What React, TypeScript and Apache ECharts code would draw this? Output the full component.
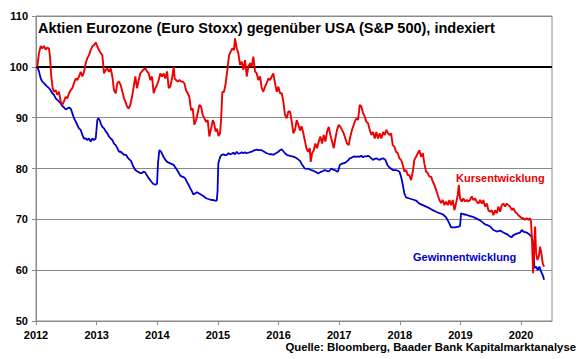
import React, { useEffect, useRef } from "react";
import * as echarts from "echarts";

const yearTicks = [2012, 2013, 2014, 2015, 2016, 2017, 2018, 2019, 2020];

const kursYears = [
  2012.021, 2012.049, 2012.078, 2012.104, 2012.132, 2012.16, 2012.186, 2012.214, 2012.231, 2012.252,
  2012.275, 2012.297, 2012.325, 2012.351, 2012.379, 2012.407, 2012.434, 2012.462, 2012.49, 2012.516,
  2012.544, 2012.572, 2012.599, 2012.627, 2012.655, 2012.681, 2012.709, 2012.737, 2012.764, 2012.792,
  2012.82, 2012.846, 2012.874, 2012.902, 2012.929, 2012.957, 2012.985, 2013.011, 2013.039, 2013.067,
  2013.094, 2013.122, 2013.15, 2013.176, 2013.204, 2013.232, 2013.259, 2013.287, 2013.315, 2013.341,
  2013.369, 2013.397, 2013.424, 2013.452, 2013.473, 2013.501, 2013.529, 2013.555, 2013.584, 2013.612,
  2013.638, 2013.666, 2013.694, 2013.72, 2013.748, 2013.777, 2013.803, 2013.831, 2013.859, 2013.885,
  2013.913, 2013.941, 2013.968, 2013.996, 2014.024, 2014.05, 2014.078, 2014.106, 2014.133, 2014.161,
  2014.189, 2014.215, 2014.243, 2014.271, 2014.288, 2014.309, 2014.337, 2014.364, 2014.392, 2014.42,
  2014.446, 2014.474, 2014.502, 2014.529, 2014.557, 2014.585, 2014.611, 2014.639, 2014.667, 2014.694,
  2014.722, 2014.75, 2014.776, 2014.804, 2014.832, 2014.859, 2014.887, 2014.915, 2014.936, 2014.961,
  2014.986, 2015.01, 2015.035, 2015.052, 2015.073, 2015.101, 2015.129, 2015.156, 2015.184, 2015.212,
  2015.238, 2015.266, 2015.282, 2015.311, 2015.337, 2015.365, 2015.393, 2015.419, 2015.447, 2015.476,
  2015.502, 2015.53, 2015.558, 2015.584, 2015.612, 2015.64, 2015.667, 2015.695, 2015.723, 2015.749,
  2015.777, 2015.805, 2015.832, 2015.86, 2015.888, 2015.914, 2015.942, 2015.97, 2015.997, 2016.025,
  2016.053, 2016.079, 2016.107, 2016.135, 2016.162, 2016.19, 2016.218, 2016.244, 2016.272, 2016.3,
  2016.322, 2016.355, 2016.379, 2016.404, 2016.432, 2016.459, 2016.487, 2016.515, 2016.531, 2016.553,
  2016.581, 2016.607, 2016.635, 2016.663, 2016.69, 2016.718, 2016.746, 2016.772, 2016.8, 2016.828,
  2016.855, 2016.883, 2016.911, 2016.937, 2016.965, 2016.993, 2017.019, 2017.047, 2017.075, 2017.102,
  2017.13, 2017.158, 2017.184, 2017.212, 2017.24, 2017.267, 2017.295, 2017.311, 2017.339, 2017.366,
  2017.394, 2017.422, 2017.448, 2017.476, 2017.504, 2017.531, 2017.559, 2017.587, 2017.613, 2017.641,
  2017.669, 2017.696, 2017.724, 2017.752, 2017.778, 2017.806, 2017.828, 2017.856, 2017.884, 2017.91,
  2017.938, 2017.966, 2017.993, 2018.021, 2018.049, 2018.075, 2018.103, 2018.131, 2018.158, 2018.186,
  2018.214, 2018.24, 2018.268, 2018.296, 2018.323, 2018.351, 2018.379, 2018.405, 2018.433, 2018.461,
  2018.488, 2018.516, 2018.544, 2018.57, 2018.598, 2018.626, 2018.653, 2018.68, 2018.709, 2018.735,
  2018.763, 2018.791, 2018.817, 2018.845, 2018.873, 2018.9, 2018.928, 2018.956, 2018.973, 2018.994,
  2019.022, 2019.049, 2019.076, 2019.104, 2019.131, 2019.159, 2019.187, 2019.213, 2019.241, 2019.269,
  2019.296, 2019.324, 2019.352, 2019.378, 2019.406, 2019.434, 2019.461, 2019.489, 2019.517, 2019.543,
  2019.571, 2019.599, 2019.626, 2019.654, 2019.682, 2019.708, 2019.736, 2019.764, 2019.791, 2019.819,
  2019.847, 2019.873, 2019.901, 2019.929, 2019.956, 2019.984, 2020.012, 2020.038, 2020.066, 2020.094,
  2020.121, 2020.149, 2020.165, 2020.182, 2020.198, 2020.215, 2020.231, 2020.248, 2020.269, 2020.292,
  2020.313, 2020.335, 2020.358, 2020.38,
];

const kursValues = [
  100.0, 102.7, 104.1, 103.6, 104.1, 103.4, 103.8, 103.6, 102.0, 98.1,
  95.8, 95.1, 95.4, 94.5, 95.1, 93.2, 92.5, 93.2, 94.1, 93.8,
  94.8, 95.4, 95.8, 96.8, 97.7, 97.4, 98.1, 99.0, 98.1, 99.0,
  100.7, 101.7, 102.3, 103.3, 104.0, 104.3, 104.8, 104.0, 103.3, 102.7,
  102.3, 98.7, 99.4, 99.7, 99.0, 99.7, 98.1, 95.4, 94.8, 96.8,
  97.1, 96.4, 95.1, 93.8, 93.2, 92.2, 91.8, 92.5, 94.1, 96.1,
  98.1, 95.8, 97.4, 98.7, 99.1, 99.5, 99.7, 99.1, 98.7, 97.4,
  98.1, 94.8, 95.8, 96.4, 97.4, 98.7, 98.1, 98.7, 97.7, 99.1,
  95.8, 96.1, 97.7, 100.0, 97.7, 97.4, 97.1, 97.4, 97.1, 97.1,
  96.8, 95.4, 94.8, 94.1, 91.5, 91.8, 88.6, 89.5, 90.9, 92.5,
  92.2, 90.5, 89.9, 89.2, 89.5, 86.3, 87.8, 89.5, 89.0, 87.3,
  87.8, 86.4, 86.9, 89.5, 95.0, 95.1, 96.8, 99.4, 102.3, 103.0,
  103.6, 103.3, 105.6, 103.6, 102.7, 100.4, 101.0, 99.4, 101.3, 98.1,
  100.0, 100.7, 100.0, 102.0, 99.1, 98.7, 97.4, 98.1, 95.8, 95.1,
  96.1, 96.8, 97.7, 97.4, 98.1, 98.7, 96.8, 95.1, 96.1, 94.8,
  94.8, 93.2, 90.5, 89.9, 91.2, 91.2, 89.2, 86.9, 87.6, 89.5,
  88.8, 87.5, 88.3, 87.2, 85.6, 84.0, 83.3, 84.0, 81.3, 83.0,
  83.6, 84.9, 84.0, 85.3, 86.3, 84.9, 86.6, 85.3, 87.2, 88.2,
  86.6, 85.3, 84.0, 85.9, 87.6, 88.6, 88.2, 87.6, 86.9, 85.9,
  84.9, 84.6, 86.3, 87.6, 88.6, 89.5, 89.9, 89.5, 92.5, 92.2,
  90.9, 90.2, 89.2, 88.9, 87.6, 86.6, 87.2, 85.9, 87.2, 85.9,
  86.9, 85.9, 87.2, 86.6, 87.6, 86.9, 86.6, 86.9, 84.6, 84.3,
  83.3, 83.0, 82.0, 81.7, 80.7, 79.4, 79.7, 78.7, 78.7, 77.7,
  79.4, 81.7, 82.3, 83.0, 83.6, 82.3, 83.0, 81.0, 79.4, 79.1,
  78.4, 78.4, 77.4, 76.8, 75.8, 74.8, 73.8, 73.2, 73.8, 72.8,
  73.5, 72.8, 73.8, 72.8, 73.8, 71.8, 73.2, 74.8, 76.8, 74.1,
  73.5, 74.1, 73.5, 73.8, 73.5, 73.8, 74.5, 73.8, 74.1, 73.5,
  73.1, 73.8, 73.1, 73.8, 72.5, 73.1, 71.8, 71.5, 71.8, 70.8,
  71.8, 71.2, 72.5, 71.5, 72.8, 73.1, 72.5, 73.1, 72.8, 72.5,
  71.8, 72.2, 71.5, 71.2, 70.8, 70.5, 70.2, 70.2, 69.9, 70.2,
  69.9, 70.2, 69.5, 65.3, 59.4, 64.6, 68.6, 63.3, 62.0, 62.7,
  64.6, 63.3, 61.3, 60.7,
];

const gewinnYears = [
  2012.021, 2012.049, 2012.078, 2012.104, 2012.132, 2012.16, 2012.186, 2012.214, 2012.242, 2012.269,
  2012.297, 2012.325, 2012.351, 2012.379, 2012.407, 2012.434, 2012.462, 2012.49, 2012.516, 2012.544,
  2012.572, 2012.599, 2012.627, 2012.655, 2012.681, 2012.709, 2012.737, 2012.764, 2012.792, 2012.82,
  2012.846, 2012.874, 2012.902, 2012.929, 2012.957, 2012.985, 2013.011, 2013.028, 2013.051, 2013.067,
  2013.094, 2013.122, 2013.15, 2013.176, 2013.204, 2013.232, 2013.259, 2013.287, 2013.315, 2013.341,
  2013.369, 2013.397, 2013.424, 2013.452, 2013.485, 2013.509, 2013.539, 2013.567, 2013.6, 2013.638,
  2013.674, 2013.715, 2013.748, 2013.773, 2013.803, 2013.831, 2013.864, 2013.897, 2013.93, 2013.968,
  2013.996, 2014.012, 2014.034, 2014.067, 2014.106, 2014.136, 2014.161, 2014.215, 2014.271, 2014.326,
  2014.351, 2014.38, 2014.408, 2014.436, 2014.458, 2014.491, 2014.516, 2014.545, 2014.568, 2014.595,
  2014.623, 2014.651, 2014.677, 2014.705, 2014.733, 2014.76, 2014.788, 2014.816, 2014.842, 2014.87,
  2014.898, 2014.925, 2014.953, 2014.981, 2014.994, 2015.007, 2015.035, 2015.063, 2015.09, 2015.118,
  2015.146, 2015.172, 2015.2, 2015.228, 2015.254, 2015.282, 2015.311, 2015.337, 2015.365, 2015.393,
  2015.419, 2015.447, 2015.476, 2015.502, 2015.53, 2015.558, 2015.584, 2015.612, 2015.64, 2015.667,
  2015.695, 2015.723, 2015.749, 2015.777, 2015.805, 2015.832, 2015.86, 2015.888, 2015.914, 2015.942,
  2015.97, 2015.997, 2016.025, 2016.053, 2016.079, 2016.107, 2016.135, 2016.162, 2016.19, 2016.223,
  2016.256, 2016.3, 2016.322, 2016.355, 2016.376, 2016.404, 2016.432, 2016.459, 2016.487, 2016.515,
  2016.541, 2016.569, 2016.597, 2016.624, 2016.652, 2016.68, 2016.707, 2016.734, 2016.762, 2016.789,
  2016.817, 2016.845, 2016.871, 2016.899, 2016.927, 2016.954, 2016.982, 2017.01, 2017.036, 2017.064,
  2017.092, 2017.118, 2017.147, 2017.175, 2017.201, 2017.229, 2017.257, 2017.283, 2017.311, 2017.339,
  2017.366, 2017.394, 2017.422, 2017.448, 2017.476, 2017.504, 2017.531, 2017.559, 2017.587, 2017.613,
  2017.641, 2017.669, 2017.696, 2017.724, 2017.762, 2017.795, 2017.828, 2017.884, 2017.938, 2017.993,
  2018.021, 2018.049, 2018.075, 2018.103, 2018.158, 2018.214, 2018.268, 2018.323, 2018.379, 2018.433,
  2018.488, 2018.544, 2018.598, 2018.653, 2018.709, 2018.763, 2018.817, 2018.845, 2018.9, 2018.956,
  2018.994, 2019.01, 2019.049, 2019.093, 2019.148, 2019.203, 2019.258, 2019.307, 2019.357, 2019.406,
  2019.456, 2019.489, 2019.543, 2019.599, 2019.654, 2019.708, 2019.764, 2019.819, 2019.847, 2019.873,
  2019.929, 2019.984, 2020.012, 2020.038, 2020.094, 2020.149, 2020.177, 2020.203, 2020.22, 2020.248,
  2020.276, 2020.302, 2020.33, 2020.358, 2020.38,
];

const gewinnValues = [
  100.0, 99.1, 97.7, 97.1, 96.8, 96.4, 96.1, 95.8, 95.4, 94.8,
  94.5, 93.8, 93.5, 93.2, 92.8, 92.3, 92.0, 91.6, 91.8, 92.0,
  91.8, 90.9, 89.9, 89.2, 88.6, 87.9, 87.6, 86.6, 85.9, 85.9,
  85.6, 85.9, 85.3, 85.9, 85.6, 85.9, 89.5, 89.9, 89.5, 88.9,
  88.2, 87.9, 87.3, 86.9, 86.3, 85.9, 85.6, 84.9, 84.6, 84.0,
  83.3, 83.3, 83.0, 82.7, 82.7, 82.2, 81.8, 81.5, 80.5, 79.7,
  79.4, 79.1, 79.1, 79.4, 79.2, 78.6, 78.0, 77.5, 77.0, 76.8,
  77.0, 81.0, 83.6, 83.2, 82.2, 81.7, 81.3, 81.0, 80.7, 79.7,
  79.2, 78.6, 78.4, 78.3, 78.1, 77.3, 76.8, 76.1, 75.6, 74.9,
  75.1, 75.3, 75.2, 75.0, 74.8, 74.6, 74.3, 74.1, 74.0, 73.9,
  73.8, 73.8, 73.7, 73.7, 75.5, 81.0, 82.2, 82.7, 82.8, 82.6,
  82.7, 83.0, 82.8, 82.9, 83.1, 82.8, 83.3, 82.9, 83.0, 83.2,
  83.0, 83.2, 83.0, 83.1, 83.2, 83.3, 83.5, 83.6, 83.7, 83.6,
  83.6, 83.6, 83.4, 83.2, 83.0, 82.9, 82.8, 82.8, 82.7, 82.9,
  83.1, 83.3, 83.6, 83.8, 83.4, 83.0, 82.7, 82.6, 82.5, 82.4,
  82.3, 82.0, 81.8, 81.5, 81.0, 80.5, 80.0, 79.9, 80.0, 79.8,
  79.7, 79.6, 79.4, 79.3, 79.0, 79.2, 79.4, 79.5, 79.7, 79.6,
  79.4, 79.6, 80.0, 79.8, 79.7, 79.5, 79.4, 80.7, 80.9, 81.0,
  81.1, 81.3, 81.6, 82.0, 82.1, 82.3, 82.4, 82.3, 82.4, 82.3,
  82.5, 82.2, 82.4, 82.4, 82.5, 82.3, 82.0, 81.7, 81.9, 82.0,
  81.8, 81.7, 81.9, 82.0, 81.7, 80.7, 80.2, 79.7, 79.7, 79.4,
  78.4, 76.8, 75.1, 74.3, 74.1, 73.9, 73.7, 73.1, 72.8, 72.5,
  72.2, 71.8, 71.5, 71.2, 71.0, 70.4, 69.2, 68.4, 68.4, 68.5,
  68.7, 71.2, 71.0, 70.9, 70.7, 70.5, 70.2, 69.9, 69.5, 69.0,
  68.8, 68.6, 67.9, 67.6, 67.8, 67.4, 67.1, 66.6, 66.5, 66.9,
  67.2, 67.4, 67.9, 67.6, 67.4, 66.9, 66.5, 65.0, 60.4, 60.7,
  60.0, 60.7, 59.7, 59.0, 58.1,
];

const titleText = "Aktien Eurozone (Euro Stoxx) gegenüber USA (S&P 500), indexiert";
const kursLabel = "Kursentwicklung";
const gewinnLabel = "Gewinnentwicklung";
const sourceText = "Quelle: Bloomberg, Baader Bank Kapitalmarktanalyse";

const FONT = "'Liberation Sans', Arial, Helvetica, sans-serif";
const RED = "#ee0000";
const BLUE = "#0000cc";
const GRAY = "#8a8a8a";

export default function App() {
  const ref = useRef<HTMLDivElement>(null);

  useEffect(() => {
    if (!ref.current) return;
    const chart = echarts.init(ref.current, null, { renderer: "svg" });
    const kursData = kursYears.map((x, i) => [x, kursValues[i]]);
    const gewinnData = gewinnYears.map((x, i) => [x, gewinnValues[i]]);

    chart.setOption({
      animation: false,
      backgroundColor: "#fff",
      grid: {
        left: 36,
        top: 16,
        right: 28,
        bottom: 38,
        show: true,
        borderColor: GRAY,
        borderWidth: 1,
        backgroundColor: "transparent",
      },
      xAxis: {
        type: "value",
        min: 2012,
        max: 2020.51,
        interval: 1,
        axisLine: { show: true, onZero: false, lineStyle: { color: GRAY, width: 1 } },
        axisTick: {
          show: true,
          inside: false,
          length: 4,
          customValues: yearTicks,
          lineStyle: { color: GRAY, width: 1 },
        },
        axisLabel: {
          customValues: yearTicks,
          formatter: (v: number) => (Math.abs(v - Math.round(v)) < 1e-6 ? String(Math.round(v)) : ""),
          color: "#000",
          fontWeight: "bold",
          fontSize: 11,
          fontFamily: FONT,
          margin: 8,
        },
        splitLine: { show: false },
      },
      yAxis: {
        type: "value",
        min: 50,
        max: 110,
        interval: 10,
        axisLine: { show: true, lineStyle: { color: GRAY, width: 1 } },
        axisTick: { show: true, inside: false, length: 4, lineStyle: { color: GRAY, width: 1 } },
        axisLabel: {
          color: "#000",
          fontWeight: "bold",
          fontSize: 11,
          fontFamily: FONT,
          margin: 8,
        },
        splitLine: { show: true, lineStyle: { color: GRAY, width: 1 } },
      },
      series: [
        {
          type: "line",
          name: gewinnLabel,
          data: gewinnData,
          showSymbol: false,
          symbol: "none",
          lineStyle: { color: BLUE, width: 1.8 },
          itemStyle: { color: BLUE },
          z: 3,
          markLine: {
            silent: true,
            symbol: ["none", "none"],
            label: { show: false },
            lineStyle: { color: "#000", width: 2, type: "solid" },
            data: [{ yAxis: 100 }],
            z: 1,
          },
        },
        {
          type: "line",
          name: kursLabel,
          data: kursData,
          showSymbol: false,
          symbol: "none",
          lineStyle: { color: RED, width: 1.9 },
          itemStyle: { color: RED },
          z: 4,
        },
      ],
      graphic: [
        {
          type: "text",
          x: 38,
          y: 28,
          style: {
            text: titleText,
            font: `bold 14.5px ${FONT}`,
            fill: "#000",
            align: "left",
            verticalAlign: "middle",
          },
        },
        {
          type: "text",
          x: 456,
          y: 178,
          style: {
            text: kursLabel,
            font: `bold 11px ${FONT}`,
            fill: RED,
            align: "left",
            verticalAlign: "middle",
          },
        },
        {
          type: "text",
          x: 413,
          y: 257,
          style: {
            text: gewinnLabel,
            font: `bold 11px ${FONT}`,
            fill: BLUE,
            align: "left",
            verticalAlign: "middle",
          },
        },
        {
          type: "text",
          x: 576,
          y: 347,
          style: {
            text: sourceText,
            font: `bold 11.35px ${FONT}`,
            fill: "#000",
            align: "right",
            verticalAlign: "middle",
          },
        },
      ],
    });

    return () => chart.dispose();
  }, []);

  return (
    <div
      ref={ref}
      style={{ position: "fixed", left: 0, top: 0, width: 580, height: 359, background: "#fff" }}
    />
  );
}
